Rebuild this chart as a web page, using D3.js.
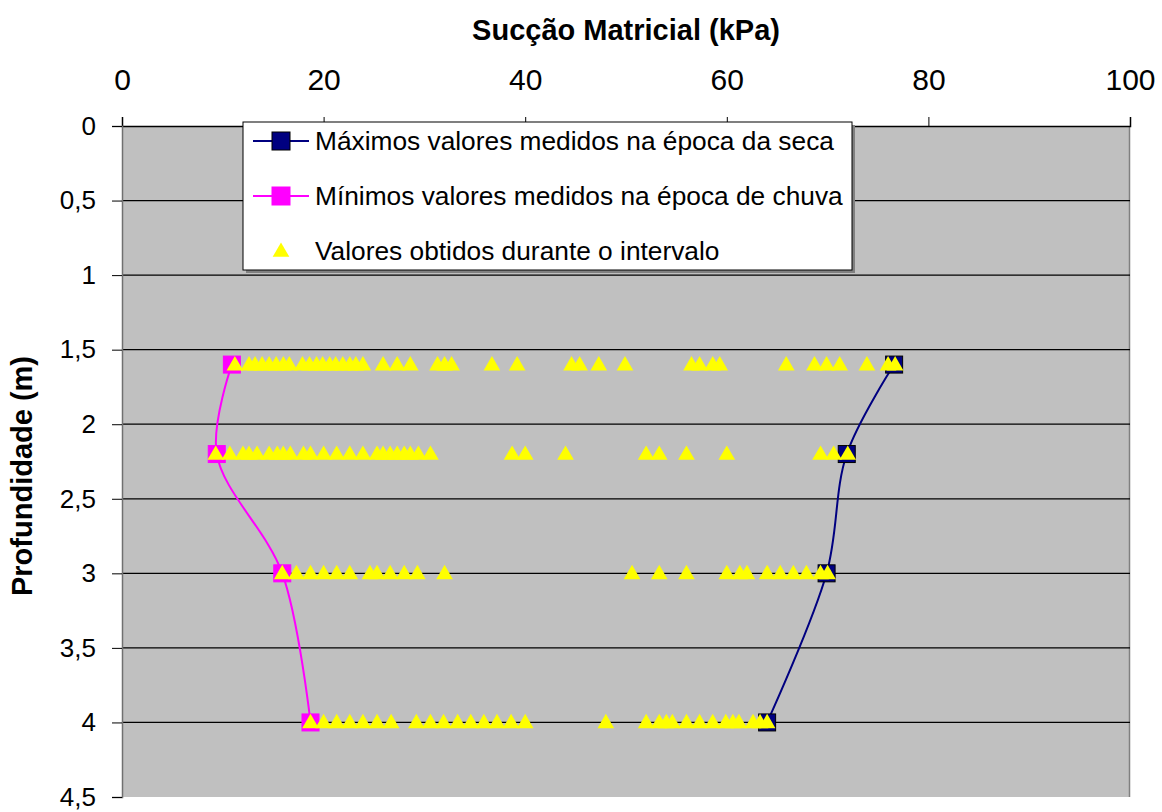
<!DOCTYPE html>
<html lang="pt">
<head>
    <meta charset="UTF-8">
    <title>Sucção Matricial</title>
    <script type="text/javascript" src="https://cdn.jsdelivr.net/npm/d3@7"></script>
    <style>
        body { margin: 0; background: #fff; }
        text { font-family: Arial, "Liberation Sans", sans-serif; }
    </style>
</head>
<body>
<script type="text/javascript">
    let width = 1162, height = 812;

    // profundidades (m)
    let depths = [1.6, 2.2, 3.0, 4.0];
    // máximos na seca, mínimos na chuva (kPa)
    let maxSeca = [76.6, 71.9, 69.9, 64.0];
    let minChuva = [10.9, 9.4, 15.9, 18.7];

    // valores obtidos durante o intervalo, por profundidade
    let obtidos16 = [11.2, 12.6, 13.2, 13.9, 14.6, 15.3, 16.0, 16.6, 17.9, 18.6, 19.3, 19.9, 20.6, 21.2, 21.9, 22.6, 23.2, 23.9,
        25.9, 27.3, 28.6, 31.3, 32.0, 32.7, 36.7, 39.2, 44.6, 45.4, 47.3, 49.9, 56.5, 57.3, 58.6, 59.3, 65.9, 68.7, 69.9, 71.2, 73.9, 76.0, 76.7];
    let obtidos22 = [9.3, 10.7, 12.0, 12.6, 13.4, 14.6, 15.4, 16.0, 16.7, 18.0, 18.7, 20.0, 21.3, 22.6, 23.9, 25.3, 25.9, 26.6,
        27.3, 28.0, 28.6, 29.4, 30.6, 38.7, 40.0, 44.0, 52.0, 53.3, 56.0, 60.0, 69.3, 70.6, 72.0];
    let obtidos30 = [15.9, 17.3, 18.7, 20.0, 21.3, 22.6, 24.6, 25.3, 26.6, 28.0, 29.3, 32.0, 50.6, 53.3, 56.0, 60.0, 61.3, 62.0,
        64.0, 65.3, 66.6, 67.9, 69.3, 70.0];
    let obtidos40 = [18.7, 20.0, 21.3, 22.6, 23.9, 25.3, 26.7, 29.2, 30.6, 31.9, 33.3, 34.6, 35.9, 37.2, 38.6, 40.0, 48.0, 52.0,
        53.3, 54.0, 54.6, 56.0, 57.3, 58.6, 59.9, 60.6, 61.2, 62.6, 63.3, 64.0];
    let obtidos = [obtidos16, obtidos22, obtidos30, obtidos40];

    let xTicks = [0, 20, 40, 60, 80, 100];
    let yTicks = [0, 0.5, 1, 1.5, 2, 2.5, 3, 3.5, 4, 4.5];

    let legendLabels = ['Máximos valores medidos na época da seca',
        'Mínimos valores medidos na época de chuva',
        'Valores obtidos durante o intervalo'];

    let svg = d3.select('body').append('svg')
        .attr('width', width)
        .attr('height', height);

    let pLeft = 122, pRight = 1130, pTop = 126, pBottom = 797;

    let x = d3.scaleLinear().domain([0, 100]).range([pLeft, pRight]);
    let y = d3.scaleLinear().domain([0, 4.5]).range([pTop, pBottom]);

    // área do gráfico
    svg.append('rect')
        .attr('x', pLeft).attr('y', pTop)
        .attr('width', pRight - pLeft).attr('height', pBottom - pTop)
        .attr('fill', '#c0c0c0');
    svg.append('line')
        .attr('x1', pRight - 0.5).attr('x2', pRight - 0.5)
        .attr('y1', pTop).attr('y2', pBottom)
        .attr('stroke', '#808080').attr('stroke-width', 1.5);

    // linhas de grade
    svg.append('g').selectAll('line')
        .data(yTicks.slice(1, -1))
        .enter().append('line')
        .attr('x1', pLeft).attr('x2', pRight)
        .attr('y1', d => y(d)).attr('y2', d => y(d))
        .attr('stroke', '#000').attr('stroke-width', 1.2);

    let fmt = d => String(d).replace('.', ',');

    // eixo superior
    let xAxis = svg.append('g')
        .attr('transform', 'translate(0,' + pTop + ')')
        .call(d3.axisTop(x).tickValues(xTicks).tickSize(9).tickPadding(27).tickFormat(d3.format('d')));
    xAxis.selectAll('text').attr('font-size', 30).attr('fill', '#000').attr('font-family', 'Arial, Liberation Sans, sans-serif');
    xAxis.selectAll('line').attr('stroke', '#000');
    xAxis.select('.domain').attr('stroke', '#000').attr('stroke-width', 1.5);

    // eixo esquerdo
    let yAxis = svg.append('g')
        .attr('transform', 'translate(' + pLeft + ',0)')
        .call(d3.axisLeft(y).tickValues(yTicks).tickSize(10).tickPadding(16).tickFormat(fmt));
    yAxis.selectAll('text').attr('font-size', 26).attr('fill', '#000').attr('font-family', 'Arial, Liberation Sans, sans-serif');
    yAxis.selectAll('line').attr('stroke', '#000');
    yAxis.select('.domain').attr('stroke', '#707070').attr('stroke-width', 1.5);

    // títulos
    svg.append('text')
        .attr('x', (pLeft + pRight) / 2).attr('y', 40)
        .attr('text-anchor', 'middle')
        .attr('font-size', 29).attr('font-weight', 'bold')
        .text('Sucção Matricial (kPa)');
    svg.append('text')
        .attr('transform', 'translate(32,' + 476 + ') rotate(-90)')
        .attr('text-anchor', 'middle')
        .attr('font-size', 29).attr('font-weight', 'bold')
        .text('Profundidade (m)');

    // curvas suavizadas
    let line = d3.line()
        .x(d => x(d[0])).y(d => y(d[1]))
        .curve(d3.curveCatmullRom.alpha(0.5));

    let series = [
        {vals: maxSeca, color: '#000080', stroke: '#000000'},
        {vals: minChuva, color: '#ff00ff', stroke: '#ff00ff'}
    ];

    series.forEach(function (s) {
        let pts = s.vals.map((v, i) => [v, depths[i]]);
        svg.append('path')
            .attr('d', line(pts))
            .attr('fill', 'none')
            .attr('stroke', s.color)
            .attr('stroke-width', 2);
        svg.append('g').selectAll('rect')
            .data(pts).enter().append('rect')
            .attr('x', d => x(d[0]) - 8.5).attr('y', d => y(d[1]) - 8.5)
            .attr('width', 17).attr('height', 17)
            .attr('fill', s.color)
            .attr('stroke', s.stroke).attr('stroke-width', 1);
    });

    // triângulos
    let tri = d3.symbol().type(d3.symbolTriangle).size(120);
    obtidos.forEach(function (row, i) {
        svg.append('g').selectAll('path')
            .data(row).enter().append('path')
            .attr('d', tri)
            .attr('transform', d => 'translate(' + x(d) + ',' + (y(depths[i]) + 1) + ')')
            .attr('fill', '#ffff00');
    });

    // legenda
    let lg = svg.append('g').attr('transform', 'translate(243,122)');
    lg.append('rect').attr('x', 3).attr('y', 3).attr('width', 609).attr('height', 148).attr('fill', '#808080');
    lg.append('rect').attr('width', 609).attr('height', 148)
        .attr('fill', '#fff').attr('stroke', '#000').attr('stroke-width', 1);

    let legendColors = ['#000080', '#ff00ff', '#ffff00'];
    legendLabels.forEach(function (t, i) {
        let ly = 19 + i * 55;
        if (i < 2) {
            lg.append('line').attr('x1', 10).attr('x2', 66).attr('y1', ly).attr('y2', ly)
                .attr('stroke', legendColors[i]).attr('stroke-width', 2);
            lg.append('rect').attr('x', 29).attr('y', ly - 9).attr('width', 18).attr('height', 18)
                .attr('fill', legendColors[i]).attr('stroke', i === 0 ? '#000' : legendColors[i]);
        } else {
            lg.append('path').attr('d', tri).attr('transform', 'translate(38,' + (ly + 1) + ')')
                .attr('fill', legendColors[i]);
        }
        lg.append('text').attr('x', 72).attr('y', ly + 9)
            .attr('font-size', 26.3).text(t);
    });
</script>
</body>
</html>
